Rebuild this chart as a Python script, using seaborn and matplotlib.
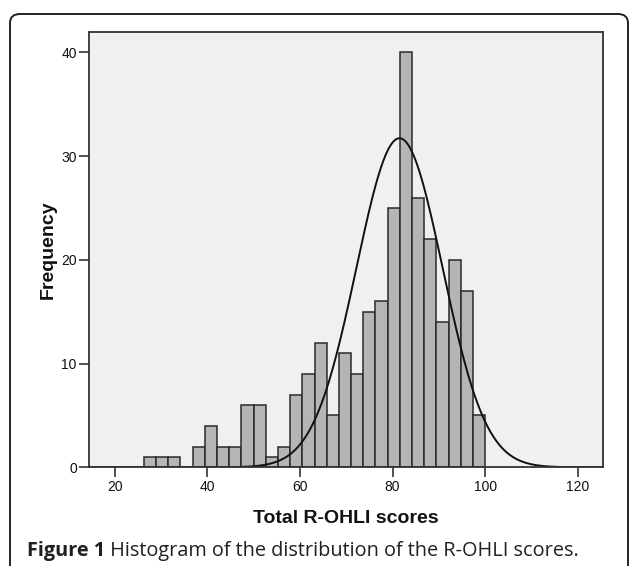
import numpy as np
import pandas as pd
import matplotlib
matplotlib.use("Agg")
import matplotlib.pyplot as plt
import seaborn as sns
from matplotlib.patches import FancyBboxPatch

# histogram bins (SPSS default binning) and counts per bin
bin_start = 26.3
bin_width = 2.632
counts = [1, 1, 1, 0, 2, 4, 2, 2, 6, 6, 1, 2, 7, 9, 12, 5, 11, 9,
          15, 16, 25, 40, 26, 22, 14, 20, 17, 5]

# fitted normal curve parameters
curve_mean = 81.5
curve_sd = 9.3

x_ticks = [20, 40, 60, 80, 100, 120]
y_ticks = [0, 10, 20, 30, 40]

x_label = "Total R-OHLI scores"
y_label = "Frequency"
caption_bold = "Figure 1"
caption_text = " Histogram of the distribution of the R-OHLI scores."

# ---- data frame for seaborn
edges = [bin_start + bin_width * i for i in range(len(counts) + 1)]
centers = [(edges[i] + edges[i + 1]) / 2 for i in range(len(counts))]
df = pd.DataFrame({"score": centers, "n": counts})

n_total = sum(counts)
xs = np.linspace(14.5, 125.5, 400)
ys = n_total * bin_width / (curve_sd * np.sqrt(2 * np.pi)) * np.exp(-0.5 * ((xs - curve_mean) / curve_sd) ** 2)
curve = pd.DataFrame({"x": xs, "y": ys})

sns.set_theme(style="white")
plt.rcParams['font.family'] = ['Liberation Sans', 'DejaVu Sans']

fig = plt.figure(figsize=(6.3, 5.66), dpi=100)
ax = fig.add_axes([0.1417, 0.1744, 0.9576 - 0.1417, 0.944 - 0.1744])
ax.set_facecolor("#f0f0f0")

sns.histplot(data=df, x="score", weights="n", bins=edges, ax=ax,
             color="#b5b5b5", edgecolor="#2a2a2a", linewidth=1.1, alpha=1)
sns.lineplot(data=curve, x="x", y="y", ax=ax, color="#111111", linewidth=1.4)

ax.set_xlim(14.5, 125.5)
ax.set_ylim(0, 42)
ax.set_xticks(x_ticks)
ax.set_yticks(y_ticks)
ax.tick_params(axis="both", direction="out", length=7, width=1.1, color="#222222",
               labelsize=10, labelcolor="#111111", pad=2)
ax.tick_params(axis="x", bottom=True)
ax.tick_params(axis="y", left=True)
for s in ax.spines.values():
    s.set_visible(True)
    s.set_color("#333333")
    s.set_linewidth(1.3)

ax.set_xlabel(x_label, fontsize=14, fontweight="bold", color="#111111", labelpad=12)
ax.set_ylabel(y_label, fontsize=14, fontweight="bold", color="#111111", labelpad=3)

# outer rounded frame (open at the bottom edge)
W, H = 630, 566
frame = FancyBboxPatch((10 / W, -30 / H), 618 / W, (H - 14 + 30) / H,
                       boxstyle="round,pad=0,rounding_size=0.016",
                       transform=fig.transFigure, fill=False,
                       edgecolor="#222222", linewidth=1.4, clip_on=False)
fig.patches.append(frame)

# caption: bold lead-in then regular text
t1 = fig.text(27 / W, 1 - 556 / H, caption_bold, fontsize=14.3, fontweight="bold",
              family=["Open Sans", "DejaVu Sans"], color="#231f20", va="baseline")
fig.canvas.draw()
bb = t1.get_window_extent()
fig.text(bb.x1 / W, 1 - 556 / H, caption_text, fontsize=14.3,
         family=["Open Sans", "DejaVu Sans"], color="#231f20", va="baseline")

fig.savefig("out.png", dpi=100)
